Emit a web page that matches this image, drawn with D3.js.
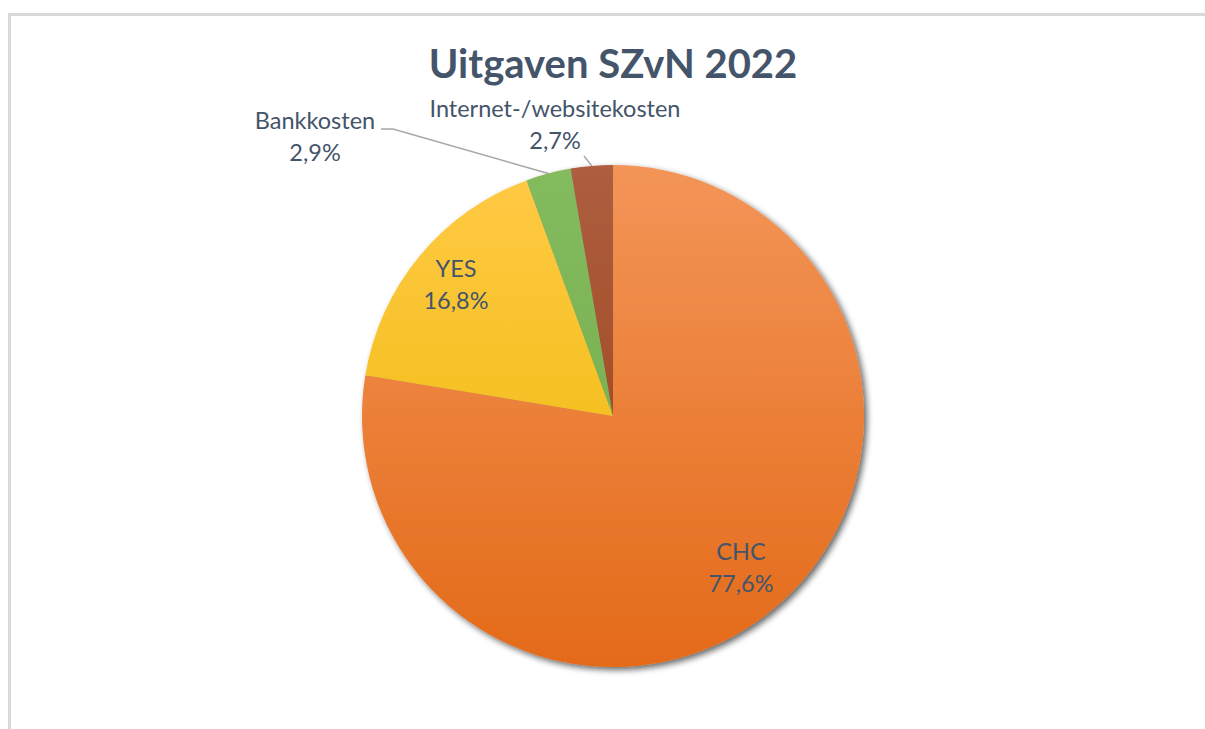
<!DOCTYPE html>
<html><head><meta charset="utf-8">
<script src="https://cdn.jsdelivr.net/npm/d3@7"></script>
<style>body{margin:0;background:#fff}</style>
</head><body>
<svg id="c" width="1205" height="729"></svg>
<script>
const categories = ["CHC", "YES", "Bankkosten", "Internet-/websitekosten"];
const values = [77.6, 16.8, 2.9, 2.7];
const labels = ["77,6%", "16,8%", "2,9%", "2,7%"];
const colorsTop = ["#F39558", "#FFCA45", "#84BB5E", "#AD5E40"];
const colorsBot = ["#E46A19", "#EBB700", "#6FA84A", "#983F0E"];

const svg = d3.select("#c");
const W = 1205, H = 729;
const defs = svg.append("defs");
const cx = 613, cy = 416, r = 251;

// border
svg.append("path").attr("d", `M9.5,${H} L9.5,14.5 L${W},14.5`)
  .attr("fill", "none").attr("stroke", "#D9D9D9").attr("stroke-width", 3);

svg.append("text").attr("x", 613).attr("y", 78).attr("text-anchor", "middle")
  .attr("font-family", "Lato, 'Open Sans', sans-serif").attr("font-weight", "bold")
  .attr("font-size", 40).attr("fill", "#44546A").text("Uitgaven SZvN 2022");

const f = defs.append("filter").attr("id", "sh").attr("x", "-20%").attr("y", "-20%").attr("width", "140%").attr("height", "140%");
f.append("feGaussianBlur").attr("in", "SourceAlpha").attr("stdDeviation", 3).attr("result", "b");
f.append("feOffset").attr("in", "b").attr("dx", 3).attr("dy", 3).attr("result", "o");
f.append("feComponentTransfer").attr("in", "o").attr("result", "o2")
  .append("feFuncA").attr("type", "linear").attr("slope", 0.6);
const m = f.append("feMerge");
m.append("feMergeNode").attr("in", "o2");
m.append("feMergeNode").attr("in", "SourceGraphic");

categories.forEach((c, i) => {
  const g = defs.append("linearGradient").attr("id", "g" + i)
    .attr("gradientUnits", "userSpaceOnUse").attr("x1", 0).attr("y1", -r).attr("x2", 0).attr("y2", r);
  g.append("stop").attr("offset", 0).attr("stop-color", colorsTop[i]);
  g.append("stop").attr("offset", 1).attr("stop-color", colorsBot[i]);
});

const pie = d3.pie().sort(null).value(d => d)(values);
const arc = d3.arc().innerRadius(0).outerRadius(r);
const gp = svg.append("g").attr("transform", `translate(${cx},${cy})`).attr("filter", "url(#sh)");
gp.selectAll("path").data(pie).join("path")
  .attr("d", arc)
  .attr("fill", (d, i) => `url(#g${i})`);

// labels
const txtColor = "#44546A";
const font = "Lato, 'Open Sans', sans-serif";
const labelPos = [[741, 560], [456, 277], [315, 129], [555, 117]];
categories.forEach((c, i) => {
  const t = svg.append("text").attr("text-anchor", "middle")
    .attr("font-family", font).attr("font-size", 23.5).attr("fill", txtColor);
  t.append("tspan").attr("x", labelPos[i][0]).attr("y", labelPos[i][1]).text(c);
  t.append("tspan").attr("x", labelPos[i][0]).attr("y", labelPos[i][1] + 32).text(labels[i]);
});

// leader lines
const mid2 = (pie[2].startAngle + pie[2].endAngle) / 2;
const mid3 = (pie[3].startAngle + pie[3].endAngle) / 2;
const p2 = [cx + Math.sin(mid2) * r, cy - Math.cos(mid2) * r];
const p3 = [cx + Math.sin(mid3) * r, cy - Math.cos(mid3) * r];
svg.append("polyline").attr("points", `381,129 393,129 ${p2[0]},${p2[1]}`)
  .attr("fill", "none").attr("stroke", "#A6A6A6").attr("stroke-width", 1.5);
svg.append("polyline").attr("points", `584,156 ${p3[0]},${p3[1]}`)
  .attr("fill", "none").attr("stroke", "#A6A6A6").attr("stroke-width", 1.5);
</script>
</body></html>
